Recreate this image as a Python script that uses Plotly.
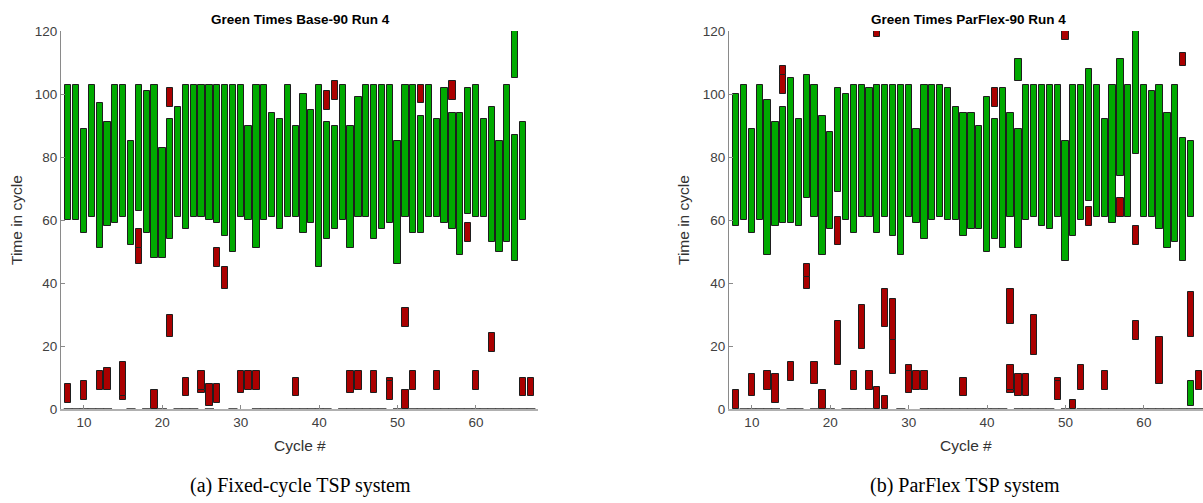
import plotly.graph_objects as go

# ---------------- Base-90 run (left panel) ----------------
base_green_cyc = [8, 9, 10, 11, 12, 13, 14, 15, 16, 17, 18, 19, 20, 21, 22, 23, 24, 25, 26, 27,
                  28, 29, 30, 31, 32, 33, 34, 35, 36, 37, 38, 39, 40, 41, 42, 43, 44, 45, 46, 47,
                  48, 49, 50, 51, 52, 53, 54, 55, 56, 57, 58, 59, 60, 61, 62, 63, 64, 65, 66, 65]
base_green_lo = [60, 60, 56, 61, 51, 58, 59, 61, 52, 63, 56, 48, 48, 54, 61, 57, 61, 61, 60, 59,
                 55, 50, 61, 60, 51, 60, 61, 57, 61, 61, 56, 59, 45, 54, 57, 60, 51, 61, 61, 54,
                 57, 59, 46, 61, 56, 56, 61, 61, 59, 57, 49, 62, 61, 61, 53, 50, 53, 47, 60, 105]
base_green_hi = [103, 103, 89, 103, 97, 91, 103, 103, 85, 103, 101, 103, 83, 92, 96, 103, 103, 103, 103, 103,
                 103, 103, 103, 90, 103, 103, 94, 92, 103, 90, 100, 95, 103, 91, 90, 103, 90, 99, 103, 103,
                 103, 103, 85, 103, 103, 93, 103, 92, 102, 94, 94, 102, 103, 92, 96, 85, 103, 87, 91, 120]

base_red_cyc = [21, 41, 42, 53, 57, 59,
                8, 10, 12, 13, 15, 15, 17, 17, 19, 21, 23, 25, 25, 26, 27, 27, 28, 30, 31, 32,
                37, 44, 45, 47, 49, 49, 51, 51, 52, 55, 60, 62, 66, 67]
base_red_lo = [96, 95, 98, 97, 98, 53,
               2, 3, 6, 6, 3, 4, 46, 51, 0, 23, 4, 5, 6, 1, 2, 45, 38, 5, 6, 6,
               4, 5, 6, 5, 3, 9, 0, 26, 6, 6, 6, 18, 4, 4]
base_red_hi = [102, 101, 104, 103, 104, 59,
               8, 9, 12, 13, 4, 15, 51, 57, 6, 30, 10, 6, 12, 8, 8, 51, 45, 12, 12, 12,
               10, 12, 12, 12, 9, 10, 6, 32, 12, 12, 12, 24, 10, 10]

# cycles carrying zero-length phases at the start of the cycle
base_zero_cyc = [8, 9, 10, 11, 12, 13, 16, 18, 20, 22, 23, 24, 26, 29,
                 32, 33, 34, 35, 36, 37, 38, 39, 40, 41, 43, 44, 45, 46, 47, 48, 50,
                 52, 53, 54, 55, 56, 57, 58, 59, 60, 61, 62, 63, 64, 65, 66, 67]

# ---------------- ParFlex-90 run (right panel) ----------------
flex_green_cyc = [8, 9, 10, 11, 12, 13, 14, 15, 16, 17, 18, 19, 20, 21, 22, 23, 24, 25, 26, 27,
                  28, 29, 30, 31, 32, 33, 34, 35, 36, 37, 38, 39, 40, 41, 42, 43, 44, 45, 46, 47,
                  48, 49, 50, 51, 52, 53, 54, 55, 56, 57, 58, 59, 60, 61, 62, 63, 64, 65, 66, 44, 66]
flex_green_lo = [58, 60, 56, 60, 49, 58, 59, 59, 58, 67, 61, 49, 57, 69, 60, 56, 61, 61, 56, 61,
                 55, 49, 61, 59, 54, 60, 61, 60, 60, 55, 57, 57, 50, 54, 51, 61, 51, 60, 61, 58,
                 57, 61, 47, 55, 60, 66, 61, 61, 59, 74, 61, 81, 61, 61, 57, 51, 53, 47, 61, 104, 1]
flex_green_hi = [100, 103, 89, 103, 98, 91, 96, 105, 92, 106, 103, 93, 88, 102, 100, 103, 103, 102, 103, 103,
                 103, 103, 103, 89, 103, 103, 103, 102, 96, 94, 94, 90, 99, 92, 102, 94, 89, 103, 103, 103,
                 103, 103, 85, 103, 103, 108, 103, 92, 103, 111, 103, 120, 103, 101, 103, 94, 103, 86, 85, 111, 9]

flex_red_cyc = [14, 14, 21, 26, 41, 50, 53, 57, 59, 65,
                8, 10, 12, 13, 15, 17, 17, 18, 19, 21, 23, 24, 25, 26, 27, 27, 28, 28, 30, 30,
                31, 32, 37, 43, 43, 43, 44, 45, 46, 49, 49, 51, 52, 55, 59, 62, 66, 67]
flex_red_lo = [100, 106, 52, 118, 96, 117, 58, 61, 52, 109,
               0, 4, 6, 2, 9, 38, 42, 8, 0, 14, 6, 19, 6, 0, 26, 0, 11, 22, 5, 12,
               6, 6, 4, 27, 5, 6, 4, 4, 17, 3, 9, 0, 6, 6, 22, 8, 23, 6]
flex_red_hi = [106, 109, 61, 120, 102, 120, 64, 67, 58, 113,
               6, 11, 12, 11, 15, 42, 46, 15, 6, 28, 12, 33, 12, 7, 38, 4, 22, 35, 12, 14,
               12, 12, 10, 38, 6, 14, 11, 11, 30, 9, 10, 3, 14, 12, 28, 23, 37, 12]

flex_zero_cyc = [9, 10, 11, 12, 13, 15, 16, 18, 20, 22, 23, 24, 25, 29,
                 32, 33, 34, 35, 36, 37, 38, 39, 40, 41, 42, 44, 45, 46, 47, 48, 50,
                 52, 53, 54, 55, 56, 57, 58, 59, 60, 61, 62, 63, 64, 65, 66, 67]

GREEN = "#00AA00"
RED = "#AA0000"
EDGE = "#1e1e1e"
AXIS_GRAY = "#8a8a8a"
TICK_FONT = dict(family="Liberation Sans, Arial, sans-serif", size=13.5, color="#404040")
BAR_W = 0.8

W, H = 1203, 503


def px_x(p):
    return p / W


def px_y(p):
    return (H - p) / H


def segments(cyc, lo, hi, color, xa, ya, name):
    return go.Bar(
        x=cyc,
        y=[h - l for l, h in zip(lo, hi)],
        base=lo,
        width=BAR_W,
        marker=dict(color=color, line=dict(color=EDGE, width=1)),
        xaxis=xa, yaxis=ya, name=name, showlegend=False,
    )


def zero_marks(cyc, xa, ya):
    return go.Scatter(
        x=cyc, y=[0] * len(cyc), mode="markers",
        marker=dict(symbol="line-ew", size=6.5, line=dict(color="#4a4a4a", width=1.8)),
        cliponaxis=False, xaxis=xa, yaxis=ya, showlegend=False, hoverinfo="skip",
    )


fig = go.Figure()
fig.add_trace(segments(base_green_cyc, base_green_lo, base_green_hi, GREEN, "x", "y", "green"))
fig.add_trace(segments(base_red_cyc, base_red_lo, base_red_hi, RED, "x", "y", "red"))
fig.add_trace(zero_marks(base_zero_cyc, "x", "y"))
fig.add_trace(segments(flex_green_cyc, flex_green_lo, flex_green_hi, GREEN, "x2", "y2", "green"))
fig.add_trace(segments(flex_red_cyc, flex_red_lo, flex_red_hi, RED, "x2", "y2", "red"))
fig.add_trace(zero_marks(flex_zero_cyc, "x2", "y2"))

y_dom = [px_y(409), px_y(31)]

xaxis_common = dict(
    showline=True, linecolor="#b0b0b0", linewidth=2, mirror=False,
    ticks="inside", ticklen=4, tickcolor=AXIS_GRAY, tickwidth=1,
    tickvals=[10, 20, 30, 40, 50, 60], tickfont=TICK_FONT,
    showgrid=False, zeroline=False, fixedrange=True, automargin=False,
)
yaxis_common = dict(
    range=[0, 120], showline=True, linecolor=AXIS_GRAY, linewidth=1,
    ticks="inside", ticklen=4, tickcolor=AXIS_GRAY, tickwidth=1,
    tickvals=[0, 20, 40, 60, 80, 100, 120], tickfont=TICK_FONT,
    showgrid=False, zeroline=False, domain=y_dom, fixedrange=True, automargin=False,
)

fig.update_layout(
    width=W, height=H,
    margin=dict(l=0, r=0, t=0, b=0, autoexpand=False),
    paper_bgcolor="white", plot_bgcolor="white",
    barmode="overlay", bargap=0,
    xaxis=dict(xaxis_common, domain=[px_x(61), px_x(538)], range=[7.07, 67.91], anchor="y"),
    yaxis=dict(yaxis_common, anchor="x"),
    xaxis2=dict(xaxis_common, domain=[px_x(729), 1.0], range=[7.08, 67.54], anchor="y2"),
    yaxis2=dict(yaxis_common, anchor="x2"),
)

ann = []
for cx, title in [(300, "Green Times Base-90 Run 4"), (968, "Green Times ParFlex-90 Run 4")]:
    ann.append(dict(x=px_x(cx), y=px_y(19), xref="paper", yref="paper", text="<b>%s</b>" % title,
                    showarrow=False, xanchor="center", yanchor="middle",
                    font=dict(family="Liberation Sans, Arial, sans-serif", size=13.5, color="black")))
for cx in (300, 966):
    ann.append(dict(x=px_x(cx), y=px_y(445), xref="paper", yref="paper", text="Cycle #",
                    showarrow=False, xanchor="center", yanchor="middle",
                    font=dict(family="Liberation Sans, Arial, sans-serif", size=15.5, color="#333333")))
for cx in (16, 683):
    ann.append(dict(x=px_x(cx), y=px_y(220), xref="paper", yref="paper", text="Time in cycle",
                    textangle=-90, showarrow=False, xanchor="center", yanchor="middle",
                    font=dict(family="Liberation Sans, Arial, sans-serif", size=15.5, color="#333333")))
for cx, cap in [(300, "(a) Fixed-cycle TSP system"), (965, "(b) ParFlex TSP system")]:
    ann.append(dict(x=px_x(cx), y=px_y(485), xref="paper", yref="paper", text=cap,
                    showarrow=False, xanchor="center", yanchor="middle",
                    font=dict(family="Liberation Serif, Times New Roman, serif", size=20, color="black")))
fig.update_layout(annotations=ann)

fig.write_html("out.html")
